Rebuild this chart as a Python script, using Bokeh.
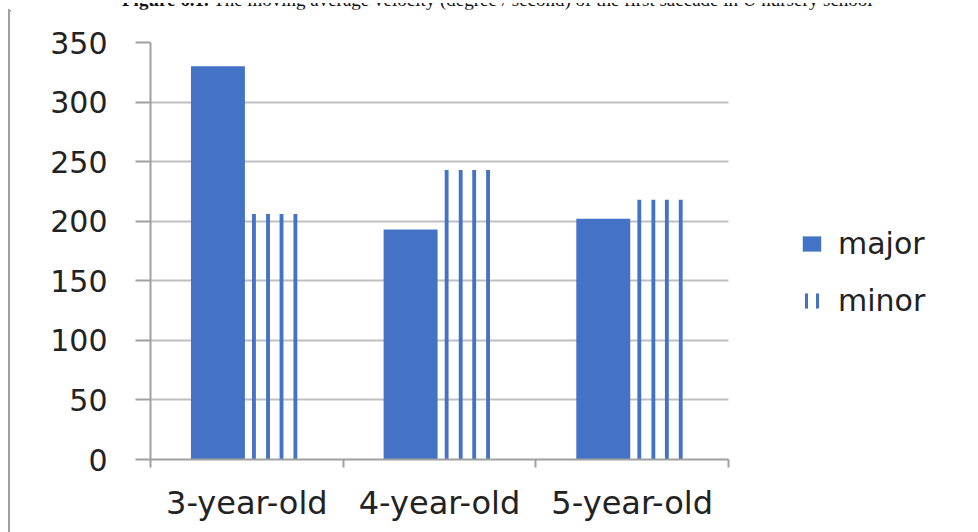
from bokeh.plotting import figure
from bokeh.models import (ColumnDataSource, FixedTicker, Legend, LegendItem, Range1d,
                          CustomJSTickFormatter, Div)
from bokeh.layouts import column, row
from bokeh.transform import dodge
from bokeh.embed import file_html
from bokeh.resources import INLINE

# ---- data ----
categories = ["3-year-old", "4-year-old", "5-year-old"]
major = [330, 193, 202]
minor = [206, 243, 218]
y_ticks = [0, 50, 100, 150, 200, 250, 300, 350]
series_names = ["major", "minor"]
title_bold = "Figure 6.1."
title_rest = "The moving average velocity (degree / second) of the first saccade in U nursery school"

BLUE = "#4472C4"
GRID = "#bfbfbf"
AXIS = "#a0a0a0"
FRAME = "#a0a0a0"
TXT = "#222222"
FONT = "DejaVu Sans"

W, H = 978, 532
CAP_H = 9            # caption strip (clipped caption + top frame line)
LEFT_W = 10          # left strip holding the left frame line
CW, CH = W - LEFT_W, H - CAP_H
LEFT, TOP, BOTTOM = 150 - LEFT_W, 42 - CAP_H, 73
CAT_PX = 192.67                     # pixel width of one category slot
n = len(categories)
frame_w = CW - LEFT
x_end = frame_w / CAT_PX            # frame extends right to hold the legend

centers = [i + 0.5 for i in range(n)]
bounds = list(range(n + 1))

p = figure(width=CW, height=CH, output_backend="svg", toolbar_location=None,
           x_range=Range1d(0, x_end), y_range=Range1d(0, max(y_ticks)),
           min_border_left=LEFT, min_border_right=0, min_border_top=TOP,
           min_border_bottom=BOTTOM, margin=0)
p.outline_line_color = None
p.background_fill_color = "white"
p.border_fill_color = "white"

src = ColumnDataSource(dict(x=centers, major=major, minor=minor))
r_major = p.vbar(x=dodge('x', -0.15), top='major', bottom=0, width=0.28, source=src,
                 fill_color=BLUE, line_color=None)
for off in [0.037, 0.11, 0.18, 0.252]:
    p.vbar(x=dodge('x', off), top='minor', bottom=0, width=0.02, source=src,
           fill_color=BLUE, line_color=None)

# legend swatch for the striped series (zero-height, draws nothing in the plot)
r_leg = p.vbar(x=[centers[0]], top=[0], bottom=[0], width=0.1, fill_alpha=0,
               line_color=None, hatch_pattern="|", hatch_color=BLUE,
               hatch_weight=3, hatch_scale=11)

legend = Legend(items=[LegendItem(label=series_names[0], renderers=[r_major]),
                       LegendItem(label=series_names[1], renderers=[r_leg])],
                location=(650, 141), border_line_color=None, background_fill_alpha=0,
                padding=0, margin=0, glyph_width=23, glyph_height=19, label_standoff=15,
                label_text_font=FONT, label_text_font_size="30px", label_text_color=TXT,
                spacing=22)
p.add_layout(legend, "center")

# grid & axes
p.xgrid.grid_line_color = None
p.ygrid.ticker = FixedTicker(ticks=y_ticks)
p.ygrid.grid_line_color = GRID
p.ygrid.grid_line_width = 2
p.ygrid.cross_bounds = (0, n)

ya = p.yaxis[0]
ya.ticker = FixedTicker(ticks=y_ticks, minor_ticks=[])
ya.axis_line_color = AXIS
ya.axis_line_width = 2
ya.major_tick_line_color = AXIS
ya.major_tick_line_width = 2
ya.major_tick_out = 15
ya.major_tick_in = 0
ya.minor_tick_line_color = None
ya.major_label_standoff = 28
ya.major_label_text_font = FONT
ya.major_label_text_font_size = "30px"
ya.major_label_text_color = TXT

xa = p.xaxis[0]
xa.bounds = (0, n)
xa.ticker = FixedTicker(ticks=centers, minor_ticks=bounds)
xa.formatter = CustomJSTickFormatter(args=dict(labels=categories),
                                     code="return labels[Math.floor(tick)] || '';")
xa.axis_line_color = AXIS
xa.axis_line_width = 2
xa.major_tick_line_color = None
xa.major_tick_out = 8
xa.major_tick_in = 0
xa.minor_tick_line_color = AXIS
xa.minor_tick_line_width = 2
xa.minor_tick_out = 8
xa.minor_tick_in = 0
xa.major_label_standoff = 16
xa.major_label_text_font = FONT
xa.major_label_text_font_size = "32px"
xa.major_label_text_color = TXT

# caption strip: caption clipped by the page top, and the top edge of the picture frame
cap_html = (
    f"<div style='position:relative;width:{W}px;height:{CAP_H}px;overflow:hidden;'>"
    "<div style=\"position:absolute;left:122px;top:-13px;font-family:'Liberation Serif';"
    "font-size:19px;line-height:19px;white-space:nowrap;color:#111;\">"
    f"<b>{title_bold}</b> {title_rest}</div>"
    f"<div style='position:absolute;left:8px;top:7px;width:{W - 8}px;height:2px;"
    f"background:{FRAME};'></div></div>"
)
cap = Div(text=cap_html, width=W, height=CAP_H, margin=0)

left_html = (
    f"<div style='position:relative;width:{LEFT_W}px;height:{CH}px;'>"
    f"<div style='position:absolute;left:8px;top:0px;width:2px;height:{CH}px;"
    f"background:{FRAME};'></div></div>"
)
left_strip = Div(text=left_html, width=LEFT_W, height=CH, margin=0)

layout = column(cap, row(left_strip, p, spacing=0, margin=0), spacing=0, margin=0)

open("out.html", "w").write(file_html(layout, INLINE))
